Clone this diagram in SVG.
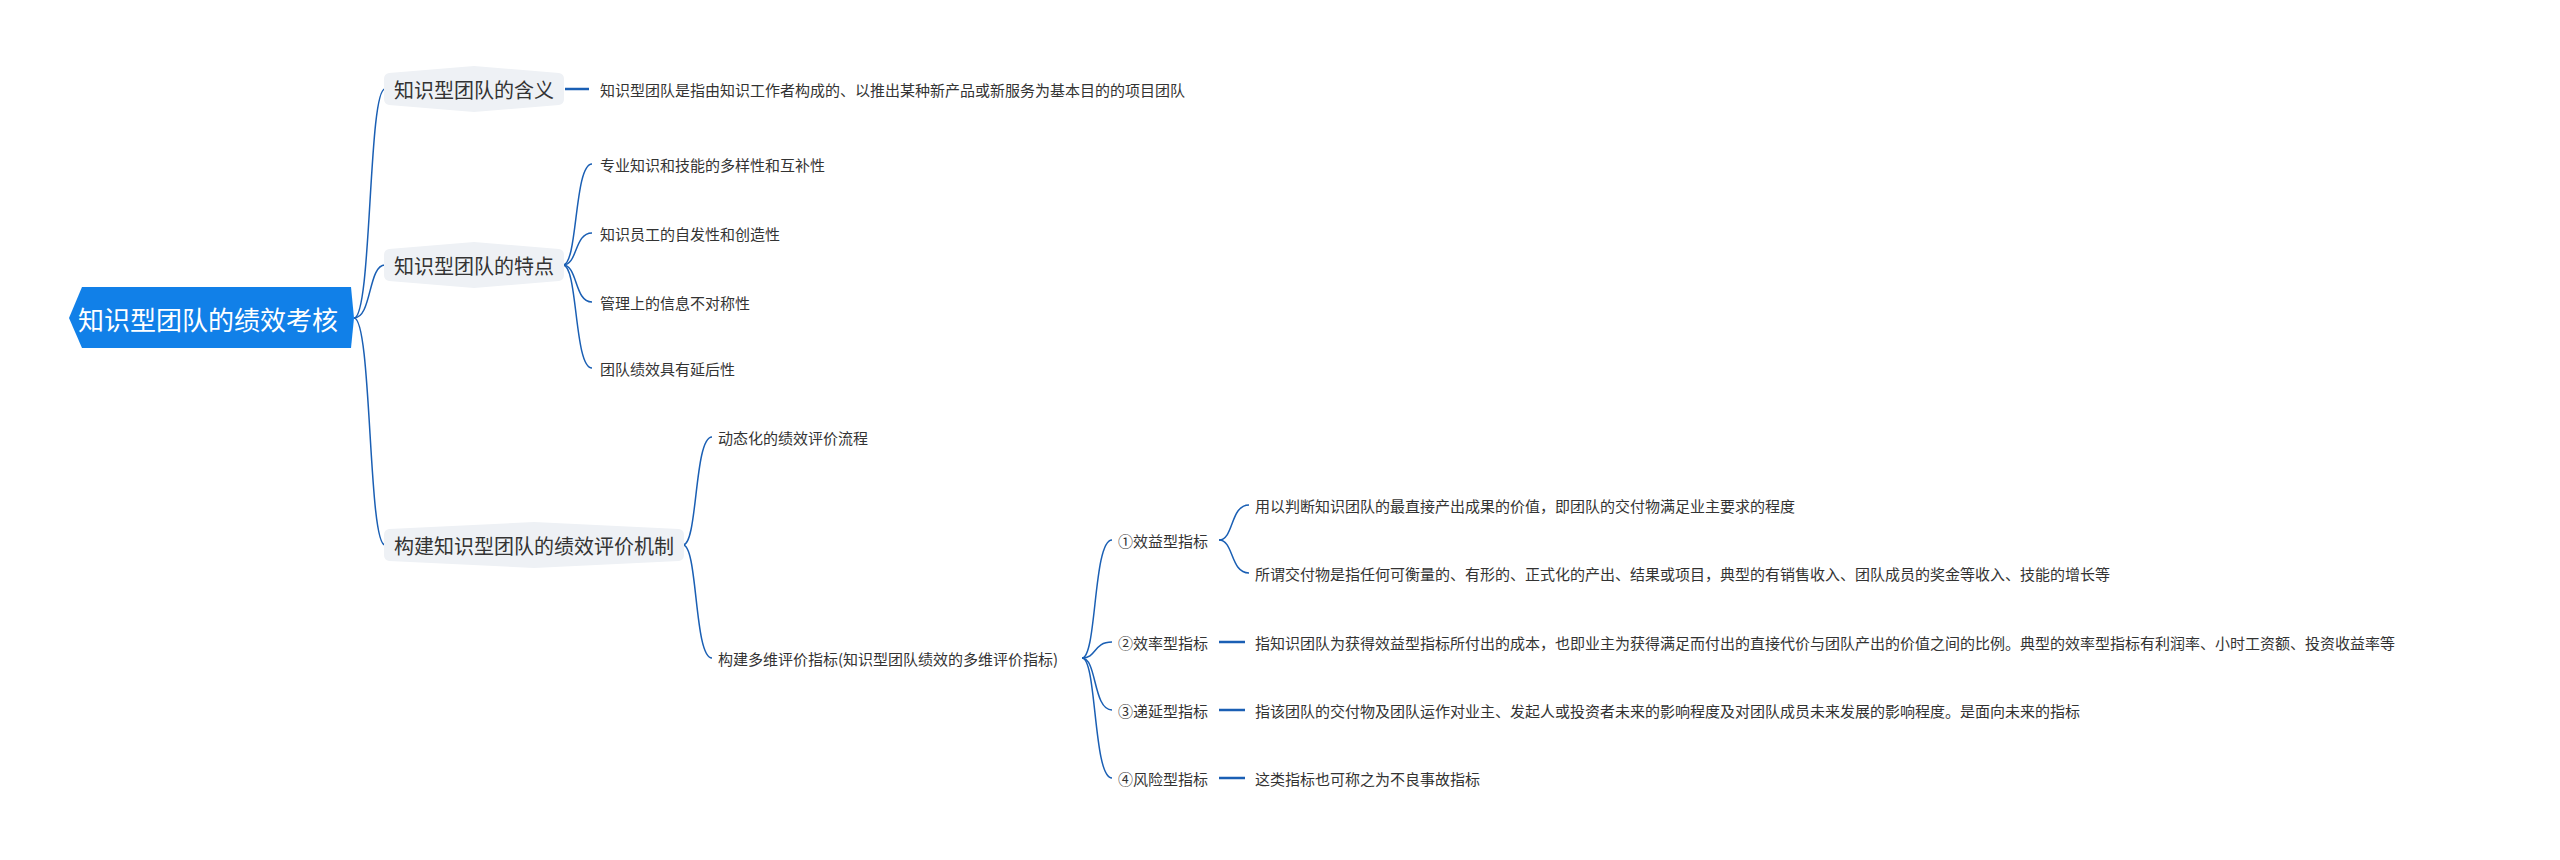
<svg xmlns="http://www.w3.org/2000/svg" width="2560" height="860" viewBox="0 0 2560 860">
<style>
text{font-family:"Noto Sans CJK SC","Liberation Sans",sans-serif;dominant-baseline:central;fill:#333}
.t{font-size:15px}
.l1{font-size:20px}
.root{font-size:26px;fill:#fff}
.c{fill:none;stroke:#1a5fb4;stroke-width:1.5}
.s{fill:none;stroke:#1a5fb4;stroke-width:2.5}
.n{fill:#eef1f5}
</style>
<rect width="2560" height="860" fill="#fff"/>
<g id="connectors">
<path class="c" d="M354,318 C372,318 368,89 385,89"/>
<path class="c" d="M354,318 C372,318 368,265 385,265"/>
<path class="c" d="M354,318 C372,318 368,545 385,545"/>
<path class="s" d="M565,89 H589"/>
<path class="c" d="M563,265 C578,265 574,164 592,164"/>
<path class="c" d="M563,265 C578,265 574,233 592,233"/>
<path class="c" d="M563,265 C578,265 574,302 592,302"/>
<path class="c" d="M563,265 C578,265 574,368 592,368"/>
<path class="c" d="M683,545 C698,545 694,437 712,437"/>
<path class="c" d="M683,545 C698,545 694,658 712,658"/>
<path class="c" d="M1082,658 C1097,658 1093,540 1112,540"/>
<path class="c" d="M1082,658 C1097,658 1093,642 1112,642"/>
<path class="c" d="M1082,658 C1097,658 1093,710 1112,710"/>
<path class="c" d="M1082,658 C1097,658 1093,778 1112,778"/>
<path class="c" d="M1219,540 C1234,540 1230,505 1249,505"/>
<path class="c" d="M1219,540 C1234,540 1230,573 1249,573"/>
<path class="s" d="M1219,642 H1245"/>
<path class="s" d="M1219,710 H1245"/>
<path class="s" d="M1219,778 H1245"/>
</g>
<g id="root">
<path d="M82,287 H351 L354,318 L351,348 H82 L69,318 Z" fill="#1180e8"/>
<text class="root" x="78" y="318">知识型团队的绩效考核</text>
</g>
<g id="n1">
<path class="n" d="M389,73 L474,66 L559,73 Q564,74 564,79 V99 Q564,104 559,105 L474,112 L389,105 Q384,104 384,99 V79 Q384,74 389,73 Z"/>
<text class="l1" x="394" y="89">知识型团队的含义</text>
</g>
<g id="n1a"><text class="t" x="600" y="89">知识型团队是指由知识工作者构成的、以推出某种新产品或新服务为基本目的的项目团队</text></g>
<g id="n2">
<path class="n" d="M389,249 L474,242 L559,249 Q564,250 564,255 V275 Q564,280 559,281 L474,288 L389,281 Q384,280 384,275 V255 Q384,250 389,249 Z"/>
<text class="l1" x="394" y="265">知识型团队的特点</text>
</g>
<g id="n2a"><text class="t" x="600" y="164">专业知识和技能的多样性和互补性</text></g>
<g id="n2b"><text class="t" x="600" y="233">知识员工的自发性和创造性</text></g>
<g id="n2c"><text class="t" x="600" y="302">管理上的信息不对称性</text></g>
<g id="n2d"><text class="t" x="600" y="368">团队绩效具有延后性</text></g>
<g id="n3">
<path class="n" d="M389,529 L534,522 L679,529 Q684,530 684,535 V555 Q684,560 679,561 L534,568 L389,561 Q384,560 384,555 V535 Q384,530 389,529 Z"/>
<text class="l1" x="394" y="545">构建知识型团队的绩效评价机制</text>
</g>
<g id="n3a"><text class="t" x="718" y="437">动态化的绩效评价流程</text></g>
<g id="n3b"><text class="t" x="718" y="658">构建多维评价指标(知识型团队绩效的多维评价指标)</text></g>
<g id="m1"><text class="t" x="1118" y="540">①效益型指标</text></g>
<g id="m1a"><text class="t" x="1255" y="505">用以判断知识团队的最直接产出成果的价值，即团队的交付物满足业主要求的程度</text></g>
<g id="m1b"><text class="t" x="1255" y="573">所谓交付物是指任何可衡量的、有形的、正式化的产出、结果或项目，典型的有销售收入、团队成员的奖金等收入、技能的增长等</text></g>
<g id="m2"><text class="t" x="1118" y="642">②效率型指标</text></g>
<g id="m2a"><text class="t" x="1255" y="642">指知识团队为获得效益型指标所付出的成本，也即业主为获得满足而付出的直接代价与团队产出的价值之间的比例。典型的效率型指标有利润率、小时工资额、投资收益率等</text></g>
<g id="m3"><text class="t" x="1118" y="710">③递延型指标</text></g>
<g id="m3a"><text class="t" x="1255" y="710">指该团队的交付物及团队运作对业主、发起人或投资者未来的影响程度及对团队成员未来发展的影响程度。是面向未来的指标</text></g>
<g id="m4"><text class="t" x="1118" y="778">④风险型指标</text></g>
<g id="m4a"><text class="t" x="1255" y="778">这类指标也可称之为不良事故指标</text></g>
</svg>
